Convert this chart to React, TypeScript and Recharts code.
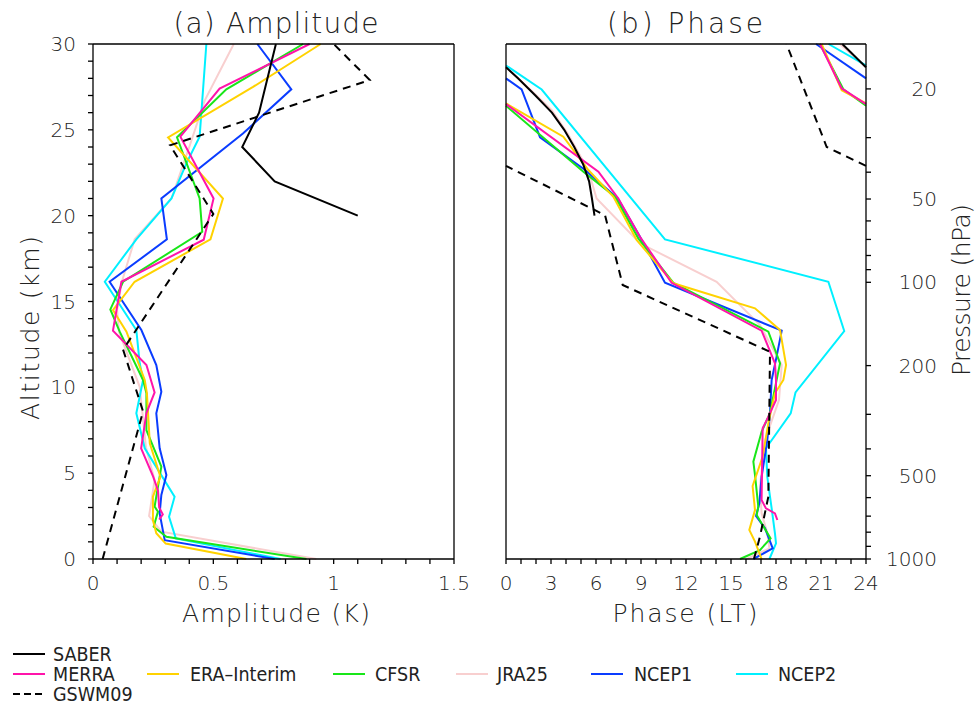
import React from 'react';
import { LineChart, Line, XAxis, YAxis } from 'recharts';

// ---------- axis ticks ----------
const altTicks = [0, 1, 2, 3, 4, 5, 6, 7, 8, 9, 10, 11, 12, 13, 14, 15, 16, 17, 18, 19, 20, 21, 22, 23, 24, 25, 26, 27, 28, 29, 30];
const altLabels = [0, 5, 10, 15, 20, 25, 30];
const ampTicks = [0, 0.1, 0.2, 0.3, 0.4, 0.5, 0.6, 0.7, 0.8, 0.9, 1, 1.1, 1.2, 1.3, 1.4, 1.5];
const ampLabels = [0, 0.5, 1, 1.5];
const phaseTicks = [0, 1, 2, 3, 4, 5, 6, 7, 8, 9, 10, 11, 12, 13, 14, 15, 16, 17, 18, 19, 20, 21, 22, 23, 24];
const phaseLabels = [0, 3, 6, 9, 12, 15, 18, 21, 24];
const pressureTicks = [20, 30, 40, 50, 60, 70, 80, 90, 100, 200, 300, 400, 500, 600, 700, 800, 900, 1000];
const pressureLabels = [20, 50, 100, 200, 500, 1000];
const scaleHeightKm = 7;
const pressureAlt = (p: number) => scaleHeightKm * Math.log(1000 / p);
const pressureTickAlts = pressureTicks.map(pressureAlt);

// ---------- amplitude (alt km, K) ----------
const saberAmp = [[20, 1.1], [22, 0.755], [24, 0.62], [26, 0.69], [28, 0.725], [30, 0.76]];
const merraAmp = [[2.3, 0.275], [2.6, 0.29], [3.0, 0.275], [4.0, 0.27], [4.8, 0.25], [6.45, 0.2], [8.5, 0.222], [9.7, 0.256], [11.3, 0.222], [13.3, 0.083], [16.15, 0.118], [18.6, 0.46], [21.0, 0.501], [24.6, 0.363], [27.4, 0.526], [30, 0.9]];
const eraAmp = [[0, 0.637], [0.9, 0.302], [1.5, 0.263], [2.27, 0.249], [3.63, 0.249], [4.8, 0.28], [6.74, 0.236], [9.65, 0.224], [10.43, 0.215], [13.24, 0.139], [14.5, 0.083], [16.15, 0.173], [18.62, 0.488], [21.0, 0.54], [24.56, 0.312], [27.5, 0.665], [30, 0.946]];
const cfsrAmp = [[0, 0.887], [1.3, 0.305], [1.88, 0.252], [2.76, 0.27], [3.05, 0.256], [5.38, 0.284], [7.5, 0.222], [9.65, 0.222], [10.43, 0.208], [13.24, 0.111], [14.54, 0.072], [16.15, 0.125], [19.06, 0.454], [21.0, 0.443], [24.56, 0.349], [27.36, 0.554], [30, 0.873]];
const jraAmp = [[0, 0.928], [1.59, 0.284], [2.5, 0.233], [4.6, 0.256], [6.5, 0.22], [10.03, 0.194], [13.24, 0.108], [14.5, 0.1], [16.15, 0.12], [18.62, 0.173], [21.0, 0.326], [24, 0.4], [26.7, 0.464], [30, 0.585]];
const ncep1Amp = [[0, 0.755], [1.1, 0.298], [2.66, 0.277], [3.73, 0.284], [4.89, 0.305], [6.45, 0.277], [8.49, 0.263], [9.74, 0.284], [11.3, 0.263], [13.34, 0.201], [16.15, 0.069], [18.62, 0.307], [21.0, 0.284], [24.79, 0.623], [27.36, 0.824], [30, 0.683]];
const ncep2Amp = [[0, 0.78], [1.2, 0.344], [2.46, 0.316], [3.63, 0.339], [6.45, 0.215], [8.49, 0.18], [10.43, 0.208], [11.4, 0.194], [13.34, 0.18], [16.15, 0.049], [18.62, 0.18], [21.0, 0.326], [23.05, 0.388], [24.6, 0.443], [30, 0.471]];
const gswmAmp = [[0, 0.04], [8.6, 0.208], [12.2, 0.125], [20.1, 0.5], [24.1, 0.32], [27.9, 1.15], [30, 1.0]];

// ---------- phase (alt km, LT hours); wrapped parts split at 24/0 ----------
const saberPh = [[20, 5.9], [21, 5.73], [22, 5.54], [23, 5.14], [24, 4.55], [25, 3.88], [26, 3.06], [27, 1.96], [28, 0.8], [28.65, 0]];
const saberPhTop = [[28.65, 24], [30, 22.42]];
const gswmPh = [[0, 16.53], [1.3, 16.93], [3.63, 17.49], [12.07, 17.6], [15.96, 7.78], [20.03, 6.6], [22.9, 0]];
const gswmPhTop = [[22.9, 24], [24.0, 21.38], [30, 18.7]];
const ncep2Ph = [[0, 17.56], [0.91, 18.0], [1.5, 17.93], [2.95, 17.71], [3.63, 17.6], [4.79, 17.42], [6.45, 17.33], [8.48, 18.98], [9.7, 19.3], [13.28, 22.55], [16.15, 21.49], [18.62, 10.6], [27.35, 2.38], [28.75, 0]];
const ncep2PhTop = [[28.75, 24], [30, 21.5]];
const ncep1Ph = [[0, 16.49], [0.62, 17.78], [1.79, 17.27], [2.5, 16.67], [3.24, 16.89], [4.79, 17.04], [6.93, 17.42], [8.49, 17.6], [10.43, 17.71], [11.79, 18.04], [13.3, 18.38], [16.09, 10.6], [18.77, 8.93], [21.0, 7.45], [22.66, 5.27], [24.56, 2.27], [27.35, 1.04], [28.0, 0]];
const ncep1PhTop = [[28.0, 24], [30, 20.67]];
const merraPh = [[2.27, 18.09], [2.66, 17.93], [2.95, 17.33], [3.44, 17.04], [7.61, 17.11], [8.29, 17.49], [9.26, 18.0], [10.43, 18.0], [11.4, 17.93], [13.3, 17.04], [16.09, 11.04], [18.77, 8.93], [21.0, 7.49], [22.56, 6.16], [26.5, 0]];
const merraPhTop = [[26.5, 24], [27.41, 22.38], [30, 20.93]];
const eraPh = [[0, 17.04], [1.01, 16.6], [1.69, 16.22], [2.85, 16.6], [4.25, 16.44], [5.96, 17.11], [7.9, 17.49], [9.65, 17.93], [10.43, 18.49], [11.3, 18.67], [13.34, 18.27], [14.6, 16.6], [16.06, 11.16], [18.58, 8.71], [21.1, 7.16], [22.66, 5.49], [24.6, 3.82], [26.54, 0]];
const eraPhTop = [[26.54, 24], [27.31, 22.38], [30, 21.04]];
const cfsrPh = [[0, 15.6], [0.52, 16.93], [1.2, 17.64], [2.56, 16.71], [3.05, 16.82], [4.89, 16.6], [5.67, 16.49], [7.41, 17.04], [8.49, 17.6], [10.43, 18.04], [11.4, 18.27], [13.24, 17.49], [16.09, 11.16], [18.68, 8.82], [21.1, 7.27], [22.56, 5.16], [26.4, 0]];
const cfsrPhTop = [[26.4, 24], [27.36, 22.49], [30, 20.93]];
const jraPh = [[0, 16.04], [0.62, 17.56], [1.5, 17.42], [2.66, 17.04], [4.21, 16.93], [6.93, 17.27], [9.26, 18.2], [11.3, 18.38], [13.63, 16.93], [16.15, 14.04], [18.39, 8.93], [21.0, 6.04], [22.3, 5.6], [23.4, 5.0], [24.8, 4.1], [26.15, 3.05], [27.12, 1.9], [28.65, 0]];
const jraPhTop = [[28.65, 24], [30, 22.27]];

// ---------- series styling ----------
const C = {
  SABER: '#000000',
  MERRA: '#ff14aa',
  ERA: '#ffd200',
  CFSR: '#19e619',
  JRA25: '#f8cfcf',
  NCEP1: '#0a3cff',
  NCEP2: '#00f0ff',
  GSWM09: '#000000',
};
const DASH = '8 6';

const toPts = (a: number[][]) => a.map(([alt, v]) => ({ alt, v }));

// axis: 'p' = plotted against the right-hand (pressure) altitude axis, same scale as the left one
type S = { key: string; data: number[][]; color: string; dash?: string; axis?: string };
const ampSeries: S[] = [
  { key: 'jra', data: jraAmp, color: C.JRA25 },
  { key: 'ncep2', data: ncep2Amp, color: C.NCEP2 },
  { key: 'ncep1', data: ncep1Amp, color: C.NCEP1 },
  { key: 'cfsr', data: cfsrAmp, color: C.CFSR },
  { key: 'era', data: eraAmp, color: C.ERA },
  { key: 'merra', data: merraAmp, color: C.MERRA },
  { key: 'gswm', data: gswmAmp, color: C.GSWM09, dash: DASH, axis: 'p' },
  { key: 'saber', data: saberAmp, color: C.SABER, axis: 'p' },
];
const phSeries: S[] = [
  { key: 'jra', data: jraPh, color: C.JRA25 },
  { key: 'jraT', data: jraPhTop, color: C.JRA25 },
  { key: 'ncep2', data: ncep2Ph, color: C.NCEP2 },
  { key: 'ncep2T', data: ncep2PhTop, color: C.NCEP2 },
  { key: 'ncep1', data: ncep1Ph, color: C.NCEP1 },
  { key: 'ncep1T', data: ncep1PhTop, color: C.NCEP1 },
  { key: 'cfsr', data: cfsrPh, color: C.CFSR },
  { key: 'cfsrT', data: cfsrPhTop, color: C.CFSR },
  { key: 'era', data: eraPh, color: C.ERA },
  { key: 'eraT', data: eraPhTop, color: C.ERA },
  { key: 'merra', data: merraPh, color: C.MERRA },
  { key: 'merraT', data: merraPhTop, color: C.MERRA },
  { key: 'gswm', data: gswmPh, color: C.GSWM09, dash: DASH, axis: 'p' },
  { key: 'gswmT', data: gswmPhTop, color: C.GSWM09, dash: DASH, axis: 'p' },
  { key: 'saber', data: saberPh, color: C.SABER, axis: 'p' },
  { key: 'saberT', data: saberPhTop, color: C.SABER, axis: 'p' },
];

const legendRows = [
  [{ name: 'SABER', color: C.SABER }],
  [
    { name: 'MERRA', color: C.MERRA },
    { name: 'ERA\u2013Interim', color: C.ERA },
    { name: 'CFSR', color: C.CFSR },
    { name: 'JRA25', color: C.JRA25 },
    { name: 'NCEP1', color: C.NCEP1 },
    { name: 'NCEP2', color: C.NCEP2 },
  ],
  [{ name: 'GSWM09', color: C.GSWM09, dash: DASH }],
];

// ---------- layout ----------
const FONT = "'DejaVu Sans', 'Noto Sans', sans-serif";
const LEGEND_FONT = "'DejaVu Sans Condensed', 'Liberation Sans Narrow', 'DejaVu Sans', sans-serif";
const TICK_STYLE = { fontSize: 20, fill: '#222', fontFamily: FONT, fontWeight: 300 };
const axisLine = { stroke: '#000', strokeWidth: 1.3 };
const legendLineX = [13, 147, 333, 456, 591, 736];
const legendTextX = [53, 190, 375, 497, 634, 778];
const legendRowY = [654, 674, 694];

const fmt = (labels: number[]) => (v: number) => (labels.includes(v) ? String(v) : '');
const fmtPressure = (alt: number) => {
  const p = Math.round(1000 * Math.exp(-alt / scaleHeightKm));
  return pressureLabels.includes(p) ? String(p) : '';
};

const renderLines = (series: S[]) =>
  series.map((s) => (
    <Line
      key={s.key}
      yAxisId={s.axis ?? 0}
      data={toPts(s.data)}
      dataKey="v"
      type="linear"
      stroke={s.color}
      strokeWidth={2}
      strokeDasharray={s.dash}
      dot={false}
      activeDot={false}
      isAnimationActive={false}
    />
  ));

const commonAxis = {
  axisLine,
  tickLine: axisLine,
  tickSize: 5,
  interval: 0 as const,
  tick: TICK_STYLE,
};

export default function App() {
  return (
    <div style={{ position: 'absolute', left: 0, top: 0, width: 975, height: 706, background: '#fff', overflow: 'hidden' }}>
      <div style={{ position: 'absolute', left: 0, top: 0 }}>
        <LineChart layout="vertical" width={470} height={620} margin={{ top: 34, right: 6, bottom: 31, left: 53 }}>
          <XAxis type="number" domain={[0, 1.5]} ticks={ampTicks} tickFormatter={fmt(ampLabels)} height={30} tickMargin={12} {...commonAxis} />
          <XAxis xAxisId="top" orientation="top" type="number" domain={[0, 1.5]} ticks={ampTicks} height={10} {...commonAxis} tick={false} />
          <YAxis type="number" dataKey="alt" reversed domain={[0, 30]} ticks={altTicks} tickFormatter={fmt(altLabels)} width={40} tickMargin={12} {...commonAxis} />
          <YAxis yAxisId="p" dataKey="alt" orientation="right" type="number" reversed domain={[0, 30]} ticks={pressureTickAlts} width={10} {...commonAxis} tick={false} />
          {renderLines(ampSeries)}
        </LineChart>
      </div>
      <div style={{ position: 'absolute', left: 480, top: 0 }}>
        <LineChart layout="vertical" width={495} height={620} margin={{ top: 34, right: 29, bottom: 31, left: 16 }}>
          <XAxis type="number" domain={[0, 24]} ticks={phaseTicks} tickFormatter={fmt(phaseLabels)} height={30} tickMargin={12} {...commonAxis} />
          <XAxis xAxisId="top" orientation="top" type="number" domain={[0, 24]} ticks={phaseTicks} height={10} {...commonAxis} tick={false} />
          <YAxis type="number" dataKey="alt" reversed domain={[0, 30]} ticks={altTicks} width={10} {...commonAxis} tick={false} />
          <YAxis
            yAxisId="p"
            dataKey="alt"
            orientation="right"
            type="number"
            reversed
            domain={[0, 30]}
            ticks={pressureTickAlts}
            width={80}
            {...commonAxis}
            tickFormatter={fmtPressure}
            tick={{ ...TICK_STYLE, textAnchor: 'end', dx: 64 }}
          />
          {renderLines(phSeries)}
        </LineChart>
      </div>
      <svg width={975} height={706} style={{ position: 'absolute', left: 0, top: 0, pointerEvents: 'none' }}>
        <g fontFamily={FONT} fill="#222" fontWeight={300}>
          <text x={276} y={33} fontSize={28} textAnchor="middle" textLength={205} lengthAdjust="spacing">(a) Amplitude</text>
          <text x={685} y={33} fontSize={28} textAnchor="middle" textLength={156} lengthAdjust="spacing">(b) Phase</text>
          <text x={276} y={622} fontSize={25} textAnchor="middle" textLength={188} lengthAdjust="spacing">Amplitude (K)</text>
          <text x={685} y={622} fontSize={25} textAnchor="middle" textLength={145} lengthAdjust="spacing">Phase (LT)</text>
          <text x={0} y={0} fontSize={25} textAnchor="middle" textLength={184} lengthAdjust="spacing" transform="translate(39,328) rotate(-90)">Altitude (km)</text>
          <text x={0} y={0} fontSize={25} textAnchor="middle" textLength={172} lengthAdjust="spacing" transform="translate(970,290) rotate(-90)">Pressure (hPa)</text>
        </g>
        <g fontFamily={LEGEND_FONT} fontSize={19.5} fill="#222">
          {legendRows.map((row, ri) =>
            row.map((e: any, ei) => (
              <g key={`${ri}-${ei}`}>
                <line x1={legendLineX[ei]} x2={legendLineX[ei] + 32} y1={legendRowY[ri]} y2={legendRowY[ri]} stroke={e.color} strokeWidth={2} strokeDasharray={e.dash ? '7 4' : undefined} />
                <text x={legendTextX[ei]} y={legendRowY[ri]} dy="0.36em">{e.name}</text>
              </g>
            ))
          )}
        </g>
      </svg>
    </div>
  );
}
